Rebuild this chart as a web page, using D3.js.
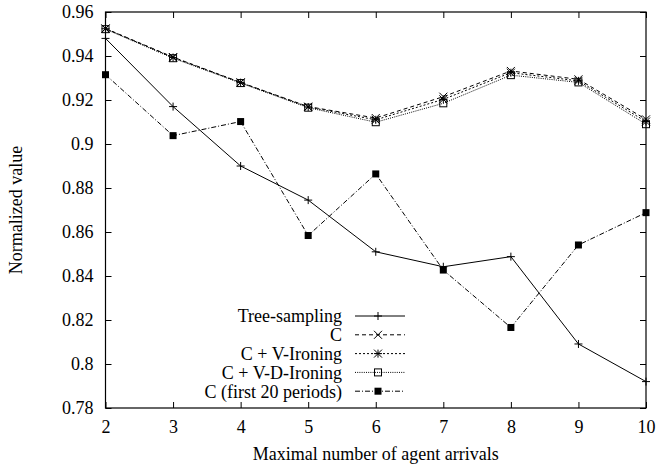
<!DOCTYPE html>
<html>
<head>
<meta charset="utf-8">
<script src="https://cdn.jsdelivr.net/npm/d3@7"></script>
<style>
  body { margin: 0; background: #fff; }
  svg text { font-family: "Liberation Serif", "DejaVu Serif", "Noto Serif", serif; fill: #000; }
</style>
</head>
<body>
<div id="chart"></div>
<script>
// values
var arrivals = [2, 3, 4, 5, 6, 7, 8, 9, 10];
var treeSampling = [0.948, 0.917, 0.890, 0.8745, 0.851, 0.8442, 0.8488, 0.8091, 0.792];
var cPlain = [0.9525, 0.9395, 0.928, 0.917, 0.9118, 0.9215, 0.9332, 0.9294, 0.9112];
var cVIroning = [0.9524, 0.9393, 0.9279, 0.9168, 0.911, 0.9203, 0.9324, 0.9287, 0.9102];
var cVDIroning = [0.9522, 0.939, 0.9277, 0.9165, 0.9099, 0.9185, 0.9313, 0.928, 0.909];
var cFirst20 = [0.9315, 0.9038, 0.9102, 0.8584, 0.8864, 0.8427, 0.8166, 0.8541, 0.8688];

var seriesNames = ["Tree-sampling", "C", "C + V-Ironing", "C + V-D-Ironing", "C (first 20 periods)"];
var yTicks = [0.78, 0.8, 0.82, 0.84, 0.86, 0.88, 0.9, 0.92, 0.94, 0.96];

var series = [
  { name: seriesNames[0], values: treeSampling, dash: null, marker: "plus" },
  { name: seriesNames[1], values: cPlain, dash: "4,3", marker: "cross" },
  { name: seriesNames[2], values: cVIroning, dash: "2,2", marker: "star" },
  { name: seriesNames[3], values: cVDIroning, dash: "1,1.2", marker: "box" },
  { name: seriesNames[4], values: cFirst20, dash: "5,2,1,2", marker: "fbox" }
];

var FONT = "'Liberation Serif', 'DejaVu Serif', 'Noto Serif', serif";
var W = 656, H = 468;
var margin = { top: 12, right: 10, bottom: 60, left: 105.5 };
var width = W - margin.left - margin.right;
var height = H - margin.top - margin.bottom;

var svg = d3.select("#chart").append("svg")
    .attr("width", W)
    .attr("height", H)
    .attr("font-family", FONT);

var g = svg.append("g")
    .attr("transform", "translate(" + margin.left + "," + margin.top + ")");

var x = d3.scaleLinear().domain([2, 10]).range([0, width]);
var y = d3.scaleLinear().domain([0.78, 0.96]).range([height, 0]);

// axes, gnuplot style: ticks pointing inward, mirrored
var fmt = function(d) { return String(+d.toFixed(2)); };

g.append("g")
    .attr("transform", "translate(0," + height + ")")
    .call(d3.axisBottom(x).ticks(8).tickSizeInner(-6).tickSizeOuter(0).tickPadding(12))
    .call(function(a) { a.select(".domain").remove(); });

g.append("g")
    .call(d3.axisTop(x).ticks(8).tickSizeInner(-6).tickSizeOuter(0).tickFormat(""))
    .call(function(a) { a.select(".domain").remove(); });

g.append("g")
    .call(d3.axisLeft(y).tickValues(yTicks).tickFormat(fmt).tickSizeInner(-6).tickSizeOuter(0).tickPadding(12))
    .call(function(a) { a.select(".domain").remove(); });

g.append("g")
    .attr("transform", "translate(" + width + ",0)")
    .call(d3.axisRight(y).tickValues(yTicks).tickFormat("").tickSizeInner(-6).tickSizeOuter(0))
    .call(function(a) { a.select(".domain").remove(); });

g.selectAll("g").attr("font-family", FONT).attr("font-size", 18);
g.selectAll(".tick line").attr("stroke", "#000");

// border
g.append("rect")
    .attr("width", width)
    .attr("height", height)
    .attr("fill", "none")
    .attr("stroke", "#000")
    .attr("stroke-width", 1.2);

// axis titles
svg.append("text")
    .attr("x", margin.left + width / 2)
    .attr("y", 460)
    .attr("text-anchor", "middle")
    .style("font-size", "18px")
    .text("Maximal number of agent arrivals");

svg.append("text")
    .attr("transform", "translate(22," + (margin.top + height / 2) + ") rotate(-90)")
    .attr("text-anchor", "middle")
    .style("font-size", "18px")
    .text("Normalized value");

// markers
function drawMarker(sel, type, cx, cy) {
  var s = 4;
  if (type == "plus" || type == "star") {
    sel.append("path").attr("d", "M" + (cx - s) + "," + cy + "H" + (cx + s) + "M" + cx + "," + (cy - s) + "V" + (cy + s))
      .attr("stroke", "#000").attr("stroke-width", 1);
  }
  if (type == "cross" || type == "star") {
    sel.append("path").attr("d", "M" + (cx - s) + "," + (cy - s) + "L" + (cx + s) + "," + (cy + s) + "M" + (cx - s) + "," + (cy + s) + "L" + (cx + s) + "," + (cy - s))
      .attr("stroke", "#000").attr("stroke-width", 1);
  }
  if (type == "box") {
    sel.append("rect").attr("x", cx - 3.5).attr("y", cy - 3.5).attr("width", 7).attr("height", 7)
      .attr("fill", "none").attr("stroke", "#000").attr("stroke-width", 1);
  }
  if (type == "fbox") {
    sel.append("rect").attr("x", cx - 3.5).attr("y", cy - 3.5).attr("width", 7).attr("height", 7)
      .attr("fill", "#000");
  }
}

var line = d3.line()
    .x(function(d, i) { return x(arrivals[i]); })
    .y(function(d) { return y(d); });

series.forEach(function(s) {
  g.append("path")
    .datum(s.values)
    .attr("d", line)
    .attr("fill", "none")
    .attr("stroke", "#000")
    .attr("stroke-width", 1)
    .attr("stroke-dasharray", s.dash);
  var mg = g.append("g");
  s.values.forEach(function(v, i) {
    drawMarker(mg, s.marker, x(arrivals[i]), y(v));
  });
});

// legend
var legend = svg.append("g");
series.forEach(function(s, i) {
  var ly = 316 + i * 18.8;
  legend.append("text")
    .attr("x", 342)
    .attr("y", ly)
    .attr("dy", "0.35em")
    .attr("text-anchor", "end")
    .style("font-size", "18px")
    .text(s.name);
  legend.append("line")
    .attr("x1", 355).attr("x2", 405)
    .attr("y1", ly).attr("y2", ly)
    .attr("stroke", "#000")
    .attr("stroke-width", 1)
    .attr("stroke-dasharray", s.dash);
  drawMarker(legend, s.marker, 378, ly);
});
</script>
</body>
</html>
